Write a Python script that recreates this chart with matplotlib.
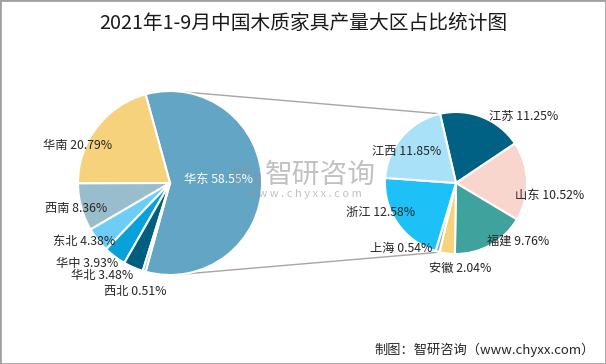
import matplotlib
matplotlib.use("Agg")
import matplotlib.pyplot as plt
from matplotlib.patches import Rectangle
import numpy as np

plt.rcParams['font.family'] = ['Noto Sans CJK SC', 'DejaVu Sans']

# ---- data ----
title = "2021年1-9月中国木质家具产量大区占比统计图"
region_names = ["华东", "华南", "西南", "东北", "华中", "华北", "西北"]
region_values = [58.55, 20.79, 8.36, 4.38, 3.93, 3.48, 0.51]
prov_names = ["江苏", "山东", "福建", "安徽", "上海", "浙江", "江西"]
prov_values = [11.25, 10.52, 9.76, 2.04, 0.54, 12.58, 11.85]
source_text = "制图：智研咨询（www.chyxx.com）"

# ---- style ----
region_colors = ["#63A5C5", "#F6D27C", "#9ABDCD", "#6CCEF6", "#08A1D9", "#005E80", "#8FB3C5"]
prov_colors = ["#006184", "#F8D5CD", "#3FA29C", "#F7D37B", "#8AB2C7", "#1DC1F7", "#A9E1F9"]
# label centres in pixel coords (x, y from top)
region_label_pos = [(219, 180), (78, 145), (76, 208), (84, 242), (87, 263), (102, 275), (135, 291)]
prov_label_pos = [(524, 116), (550, 195), (518, 241), (460, 268), (401, 248), (381, 212), (407, 152)]

W, H = 606, 364
fig = plt.figure(figsize=(W / 100, H / 100), dpi=100)
ax = fig.add_axes([0, 0, 1, 1])

def Y(y):
    return H - y

# left pie
lc = (170, Y(183))
lr = 92
start_left = -region_values[0] * 3.6 / 2
ax.pie(region_values, colors=region_colors, center=lc, radius=lr,
       startangle=start_left, counterclock=True,
       wedgeprops=dict(edgecolor='white', linewidth=1.5), frame=True)

# right pie
rc = (456, Y(183))
rr = 71
ax.pie(prov_values, colors=prov_colors, center=rc, radius=rr,
       startangle=103, counterclock=False,
       wedgeprops=dict(edgecolor='white', linewidth=1.5), frame=True)

ax.set_xlim(0, W)
ax.set_ylim(0, H)
ax.set_aspect('equal')
ax.axis('off')

# connector lines
for sgn in (1, -1):
    a1 = np.deg2rad(82 * sgn)
    a2 = np.deg2rad(103 * sgn)
    p1 = (lc[0] + lr * np.cos(a1), lc[1] + lr * np.sin(a1))
    p2 = (rc[0] + rr * np.cos(a2), rc[1] + rr * np.sin(a2))
    ax.plot([p1[0], p2[0]], [p1[1], p2[1]], color='#A6A6A6', lw=1, zorder=0.5)

# labels
for i, (n, v) in enumerate(zip(region_names, region_values)):
    x, y = region_label_pos[i]
    col = 'white' if i == 0 else '#262626'
    ax.text(x, Y(y), f"{n} {v:.2f}%", ha='center', va='center', fontsize=8.8,
            color=col, zorder=5)
for i, (n, v) in enumerate(zip(prov_names, prov_values)):
    x, y = prov_label_pos[i]
    ax.text(x, Y(y), f"{n} {v:.2f}%", ha='center', va='center', fontsize=8.8,
            color='#262626', zorder=5)

# watermark
ax.text(320, Y(175), "智研咨询", ha='center', va='center', fontsize=20,
        color='#999999', alpha=0.6, zorder=6)
ax.text(304, Y(194), "w w w . c h y x x . c o m", ha='center', va='center', fontsize=8,
        color='#999999', alpha=0.6, zorder=6)
# logo blocks
for (x0, y0, w, h) in [(234, 165, 8, 22), (244, 165, 8, 10), (254, 172, 7, 15)]:
    ax.add_patch(Rectangle((x0, Y(y0 + h)), w, h, facecolor='#7f97aa', alpha=0.35,
                           edgecolor='none', zorder=6))

# title and source
fig.text(0.5, 1 - 23 / H, title, ha='center', va='center', fontsize=14.2,
         fontweight='medium', color='#1a1a1a')
ax.text(595, Y(350), source_text, ha='right', va='center', fontsize=9.5, color='#262626')

# border
fig.patches.append(Rectangle((0, 0), 1, 1, transform=fig.transFigure, fill=False,
                             edgecolor='#A0A0A0', linewidth=2))

fig.savefig("out.png", dpi=100)
